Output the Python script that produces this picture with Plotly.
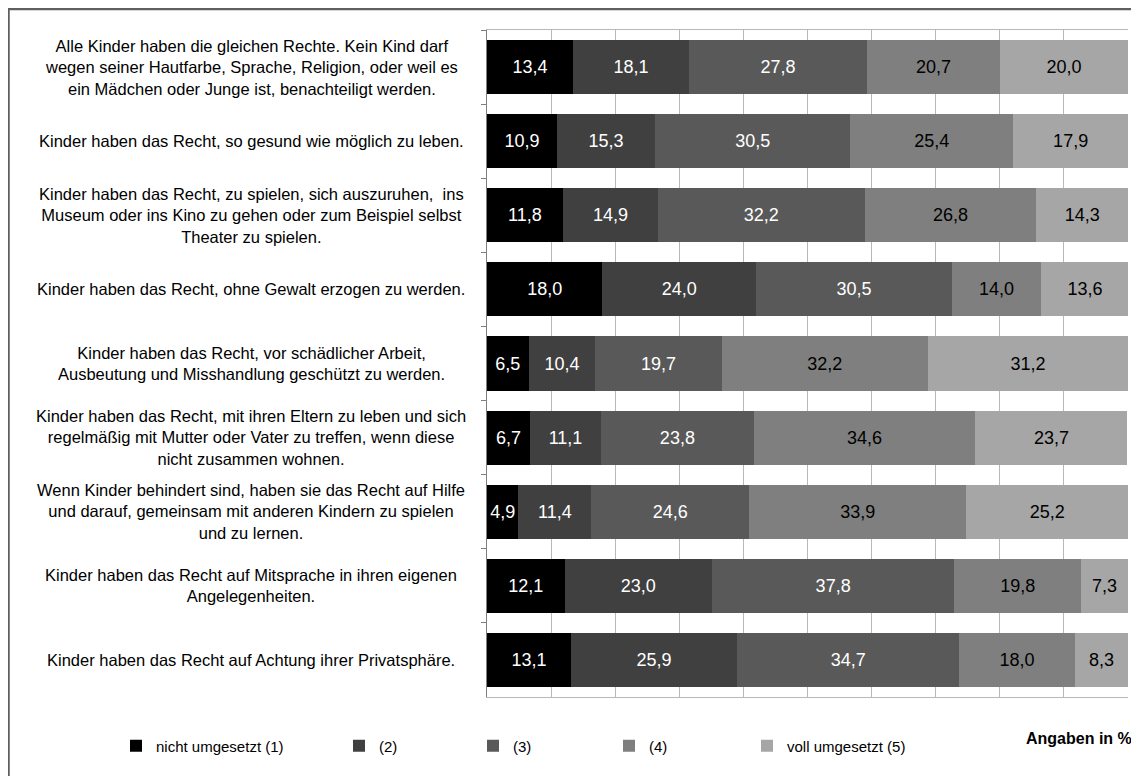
import plotly.graph_objects as go

categories = [
    "Alle Kinder haben die gleichen Rechte. Kein Kind darf<br>wegen seiner Hautfarbe, Sprache, Religion, oder weil es<br>ein Mädchen oder Junge ist, benachteiligt werden.",
    "Kinder haben das Recht, so gesund wie möglich zu leben.",
    "Kinder haben das Recht, zu spielen, sich auszuruhen,  ins<br>Museum oder ins Kino zu gehen oder zum Beispiel selbst<br>Theater zu spielen.",
    "Kinder haben das Recht, ohne Gewalt erzogen zu werden.",
    "Kinder haben das Recht, vor schädlicher Arbeit,<br>Ausbeutung und Misshandlung geschützt zu werden.",
    "Kinder haben das Recht, mit ihren Eltern zu leben und sich<br>regelmäßig mit Mutter oder Vater zu treffen, wenn diese<br>nicht zusammen wohnen.",
    "Wenn Kinder behindert sind, haben sie das Recht auf Hilfe<br>und darauf, gemeinsam mit anderen Kindern zu spielen<br>und zu lernen.",
    "Kinder haben das Recht auf Mitsprache in ihren eigenen<br>Angelegenheiten.",
    "Kinder haben das Recht auf Achtung ihrer Privatsphäre.",
]

series_names = ["nicht umgesetzt (1)", "(2)", "(3)", "(4)", "voll umgesetzt (5)"]

s1 = [13.4, 10.9, 11.8, 18.0, 6.5, 6.7, 4.9, 12.1, 13.1]
s2 = [18.1, 15.3, 14.9, 24.0, 10.4, 11.1, 11.4, 23.0, 25.9]
s3 = [27.8, 30.5, 32.2, 30.5, 19.7, 23.8, 24.6, 37.8, 34.7]
s4 = [20.7, 25.4, 26.8, 14.0, 32.2, 34.6, 33.9, 19.8, 18.0]
s5 = [20.0, 17.9, 14.3, 13.6, 31.2, 23.7, 25.2, 7.3, 8.3]

series_values = [s1, s2, s3, s4, s5]
colors = ["#000000", "#404040", "#595959", "#7f7f7f", "#a6a6a6"]
text_colors = ["#ffffff", "#ffffff", "#ffffff", "#000000", "#000000"]

FONT = "Liberation Sans, Arial, sans-serif"

# page body has an 8px default margin; work in screenshot pixel coords
OFF = 8
W, H = 1139 - OFF, 776 - OFF
PX_L, PX_R, PX_T, PX_B = 487, 1128, 30, 697   # plot area in screenshot px
L = PX_L - OFF
T = PX_T - OFF
R = W - (PX_R - OFF)
B = H - (PX_B - OFF)
PW, PH = PX_R - PX_L, PX_B - PX_T

def px_x(p):
    return (p - PX_L) / PW

def px_y(p):
    return (PX_B - p) / PH

fig = go.Figure()
legend_text_x = [156, 379, 513, 649, 787]
for i, (name, vals) in enumerate(zip(series_names, series_values)):
    lg = "legend" if i == 0 else f"legend{i+1}"
    fig.add_trace(go.Bar(
        y=categories, x=vals, name=name, orientation="h",
        marker=dict(color=colors[i], line=dict(width=0)),
        texttemplate="%{x:.1f}", textposition="inside",
        insidetextanchor="middle",
        textfont=dict(color=text_colors[i], size=18, family=FONT),
        legend=lg,
    ))

# category labels, centered
for c in categories:
    fig.add_annotation(
        x=px_x(251), xref="paper", y=c, yref="y",
        text=c, showarrow=False, xanchor="center", yanchor="middle",
        align="center", font=dict(size=16.5, color="#000000", family=FONT),
    )

fig.add_annotation(
    x=px_x(1134), xref="paper", y=px_y(738), yref="paper",
    text="<b>Angaben in %</b>", showarrow=False, xanchor="right", yanchor="middle",
    font=dict(size=16, color="#000000", family=FONT),
)

# outer frame (left and top edges visible)
fig.add_shape(type="rect", xref="paper", yref="paper",
              x0=px_x(OFF + 0.5), x1=px_x(1200), y0=px_y(820), y1=px_y(OFF + 1),
              line=dict(color="#5f5f5f", width=2.5), fillcolor="rgba(0,0,0,0)", layer="below")

layout_legends = {}
for i in range(5):
    key = "legend" if i == 0 else f"legend{i+1}"
    layout_legends[key] = dict(
        x=px_x(legend_text_x[i] - 40), xanchor="left",
        y=px_y(746), yanchor="middle", orientation="h",
        font=dict(size=15, color="#000000", family=FONT),
        bgcolor="rgba(0,0,0,0)", borderwidth=0,
    )

fig.update_layout(
    width=W, height=H,
    margin=dict(l=L, r=R, t=T, b=B, pad=0),
    barmode="stack", bargap=0.27,
    separators=",.",
    plot_bgcolor="#ffffff", paper_bgcolor="#ffffff",
    font=dict(family=FONT, color="#000000"),
    uniformtext=dict(minsize=18, mode="show"),
    showlegend=True,
    **layout_legends,
)
fig.update_xaxes(
    range=[0, 100], dtick=10, showgrid=True, gridcolor="#b8b8b8", gridwidth=1,
    showticklabels=False, zeroline=False, showline=True, mirror=True,
    linecolor="#b8b8b8", linewidth=1, fixedrange=True,
)
fig.update_yaxes(
    autorange="reversed", showticklabels=False, showgrid=False,
    ticks="outside", tickson="boundaries", ticklen=5, tickcolor="#7f7f7f",
    showline=True, linecolor="#7f7f7f", linewidth=1, fixedrange=True,
)

fig.write_html("out.html")
